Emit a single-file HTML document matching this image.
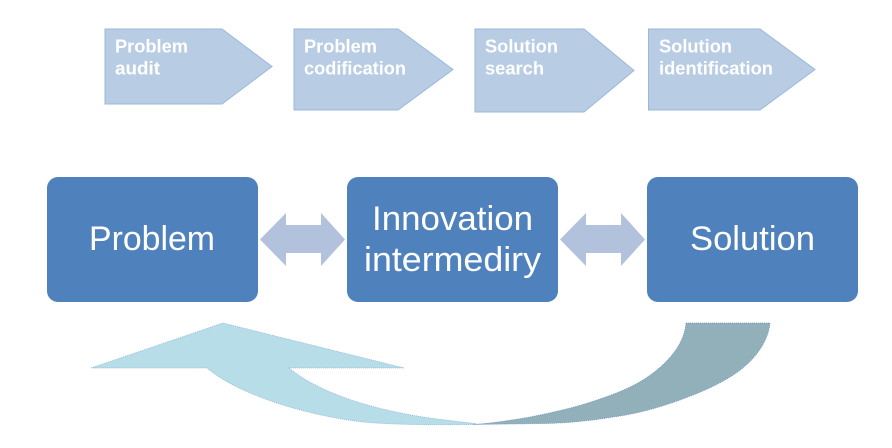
<!DOCTYPE html>
<html>
<head>
<meta charset="utf-8">
<style>
html,body{margin:0;padding:0;background:#fff;width:892px;height:448px;overflow:hidden}
svg{display:block}
.s{font-family:"Liberation Sans",sans-serif;font-weight:bold;font-size:18px;fill:#fff}
.b{font-family:"Liberation Sans",sans-serif;font-size:34px;fill:#fff}
</style>
</head>
<body>
<svg width="892" height="448" viewBox="0 0 892 448" xmlns="http://www.w3.org/2000/svg">
<g fill="#b8cce4" stroke="#9ab8dc" stroke-width="1">
<polygon points="105,29 222,29 272,66.500 222,104 105,104"/>
<polygon points="294,29 398,29 453,69.500 398,110 294,110"/>
<polygon points="475,29 584,29 634,70.500 584,112 475,112"/>
<polygon points="648.500,29 760,29 815,69.500 760,110 648.500,110"/>
</g>
<text class="s" x="115" y="52.500" textLength="73" lengthAdjust="spacingAndGlyphs">Problem</text>
<text class="s" x="115" y="74.500" textLength="45" lengthAdjust="spacingAndGlyphs">audit</text>
<text class="s" x="304" y="52.500" textLength="73" lengthAdjust="spacingAndGlyphs">Problem</text>
<text class="s" x="304" y="74.500" textLength="102" lengthAdjust="spacingAndGlyphs">codification</text>
<text class="s" x="485" y="52.500" textLength="73" lengthAdjust="spacingAndGlyphs">Solution</text>
<text class="s" x="485" y="74.500" textLength="59" lengthAdjust="spacingAndGlyphs">search</text>
<text class="s" x="659" y="52.500" textLength="73" lengthAdjust="spacingAndGlyphs">Solution</text>
<text class="s" x="659" y="74.500" textLength="114" lengthAdjust="spacingAndGlyphs">identification</text>

<g fill="#4f81bd">
<rect x="47" y="177" width="211" height="125" rx="11"/>
<rect x="347" y="177" width="211" height="125" rx="11"/>
<rect x="647" y="177" width="211" height="125" rx="11"/>
</g>
<text class="b" x="89" y="250" textLength="126" lengthAdjust="spacingAndGlyphs">Problem</text>
<text class="b" x="372" y="230" textLength="161" lengthAdjust="spacingAndGlyphs">Innovation</text>
<text class="b" x="364" y="271" textLength="177" lengthAdjust="spacingAndGlyphs">intermediry</text>
<text class="b" x="690" y="250" textLength="125" lengthAdjust="spacingAndGlyphs">Solution</text>

<g fill="#b2c1dc">
<polygon points="260,239.500 286,213 286,225 321,225 321,213 345,239.500 321,266 321,253 286,253 286,266"/>
<polygon points="560,239.500 586,213 586,225 621,225 621,213 645,239.500 621,266 621,253 586,253 586,266"/>
</g>

<path d="M91,368 L223,323 L404,368 L289,368 C313,388 360,408 430,418 C445,420 460,422 476,423.500 L473,424.500 C440,425 395,425 363,422 C310,416 240,396 207,368 Z" fill="#b7dde8" stroke="#8fb4d8" stroke-width="0.800" stroke-dasharray="1 1"/>
<path d="M686,323 L770,323 C768,345 750,365 730,377 C712,388 696,394 680,400 C658,408 636,414 613,417 C590,421 565,423 547,423.500 L473,424.500 C495,423 512,420 530,417 C555,412 577,407 597,400 C615,394 630,388 643,380 C662,368 684,348 686,323 Z" fill="#92b0ba" stroke="#6f94bd" stroke-width="0.800" stroke-dasharray="1 1"/>
</svg>
</body>
</html>
